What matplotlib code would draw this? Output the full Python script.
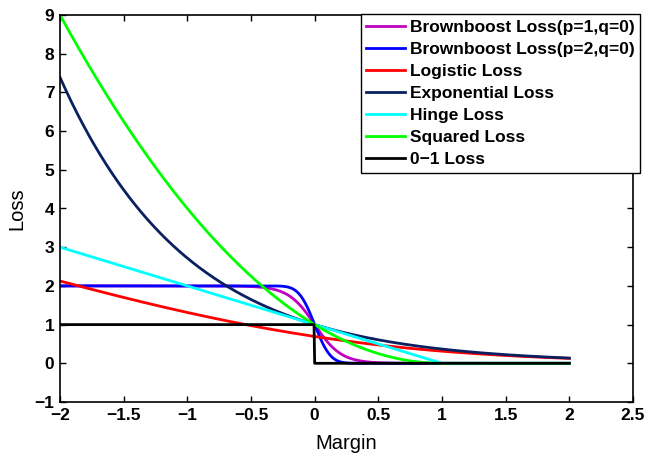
import numpy as np
import matplotlib
matplotlib.use('Agg')
import matplotlib.pyplot as plt
from math import erf

# margin grid and curve parameters
margin = np.linspace(-2, 2, 801)
brown_k = [4.8, 7.3]          # steepness of brownboost curves (p=1, p=2)
labels = ['Brownboost Loss(p=1,q=0)', 'Brownboost Loss(p=2,q=0)', 'Logistic Loss',
          'Exponential Loss', 'Hinge Loss', 'Squared Loss', '0\u22121 Loss']
colors = ['#c000c0', '#0000ff', '#ff0000', '#0a2060', '#00ffff', '#00ff00', '#000000']

verf = np.vectorize(erf)
curves = [
    1 - np.tanh(brown_k[0] * margin),
    1 - verf(brown_k[1] * margin),
    np.log(1 + np.exp(-margin)),
    np.exp(-margin),
    np.maximum(0, 1 - margin),
    np.maximum(0, 1 - margin) ** 2,
    np.where(margin < 0, 1.0, 0.0),
]

plt.rcParams['font.family'] = ['Liberation Sans', 'DejaVu Sans']

fig = plt.figure(figsize=(6.46, 4.61), dpi=100)
ax = fig.add_axes([60/646, 59/461, 573/646, 387/461])

for y, c, lab in zip(curves, colors, labels):
    ax.plot(margin, y, color=c, linewidth=2.0, label=lab)

ax.set_xlim(-2, 2.5)
ax.set_ylim(-1, 9)
ax.set_xticks(np.arange(-2, 2.51, 0.5))
ax.set_xticklabels(['\u22122', '\u22121.5', '\u22121', '\u22120.5', '0', '0.5', '1', '1.5', '2', '2.5'])
ax.set_yticks(np.arange(-1, 10, 1))
ax.set_yticklabels(['\u22121'] + [str(i) for i in range(0, 10)])
ax.tick_params(direction='in', top=True, right=True, length=4, width=1, labelsize=12.5, pad=4)
for t in ax.get_xticklabels() + ax.get_yticklabels():
    t.set_fontweight('bold')
for s in ax.spines.values():
    s.set_linewidth(1.2)

ax.set_xlabel('Margin', fontsize=14.5, labelpad=8)
ax.set_ylabel('Loss', fontsize=14.5, labelpad=6)

leg = ax.legend(loc='upper right', bbox_to_anchor=(640/646, 1 - 14.5/461),
                bbox_transform=fig.transFigure, borderaxespad=0, fancybox=False,
                framealpha=1, edgecolor='black', handlelength=2.25, handletextpad=0.3,
                labelspacing=0.4, borderpad=0.3, prop={'weight': 'bold', 'size': 12.5})
leg.get_frame().set_linewidth(1.0)

fig.savefig('out.png', dpi=100)
